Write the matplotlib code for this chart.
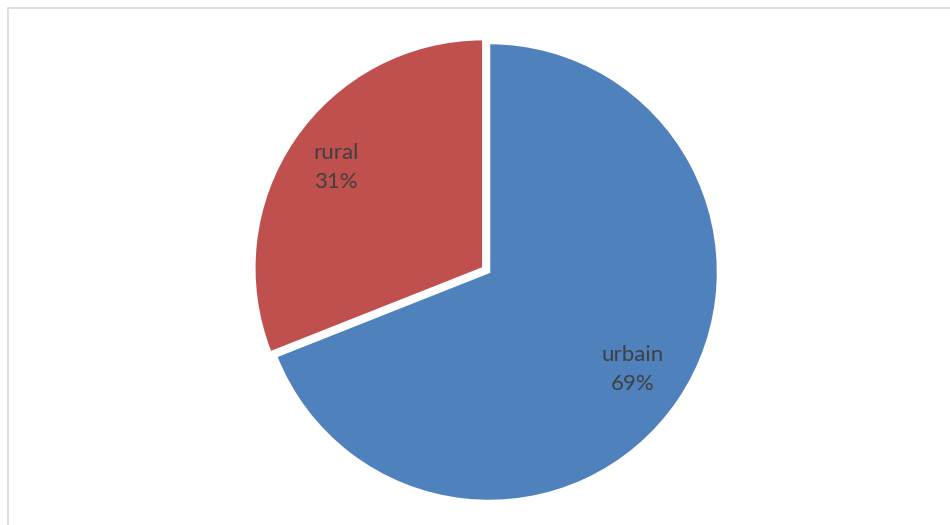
import matplotlib.pyplot as plt
import numpy as np

# data
labels = ["urbain", "rural"]
shares = [69, 31]
colors = ["#4F81BD", "#C0504D"]
explode = [0, 0.03]
label_dist = [0.76, 0.81]

fig = plt.figure(figsize=(9.5, 5.25), dpi=100)

# light frame round the chart area
fig.patches.append(plt.Rectangle((8 / 950, -0.01), 1.0, 1 - 8 / 525 + 0.01,
                                 transform=fig.transFigure, fill=False,
                                 edgecolor="#D9D9D9", linewidth=1.2))

r = 229
ax = fig.add_axes([(489 - r) / 950, (525 - 272 - r) / 525, 2 * r / 950, 2 * r / 525])
wedges, _ = ax.pie(shares, colors=colors, explode=explode, startangle=90,
                   counterclock=False, radius=1,
                   wedgeprops=dict(edgecolor="white", linewidth=1.8))
ax.set_xlim(-1, 1)
ax.set_ylim(-1, 1)
ax.set_aspect("equal")
ax.axis("off")

for w, lab, val, d in zip(wedges, labels, shares, label_dist):
    ang = np.deg2rad((w.theta1 + w.theta2) / 2)
    ax.text(d * np.cos(ang), d * np.sin(ang), f"{lab}\n{val}%",
            ha="center", va="center", fontsize=16, color="#404040",
            family="Lato", linespacing=1.55)

fig.savefig("out.png", dpi=100)
